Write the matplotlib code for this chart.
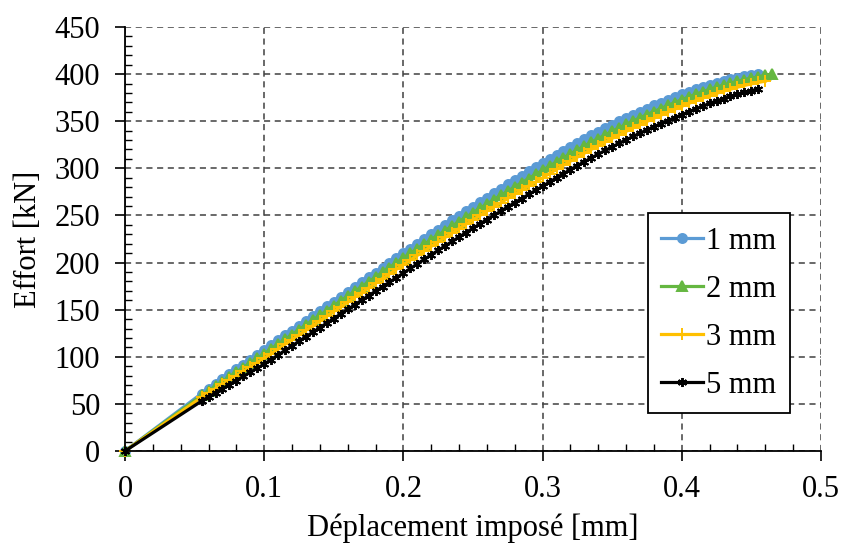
import numpy as np
import matplotlib
matplotlib.use("Agg")
import matplotlib.pyplot as plt
from matplotlib.ticker import MultipleLocator, FuncFormatter

plt.rcParams['font.family'] = ['Liberation Serif', 'DejaVu Serif']

labels = ["1 mm", "2 mm", "3 mm", "5 mm"]
colors = ["#5B9BD5", "#65B741", "#FFC000", "#000000"]

x_start = 0.055
step = 0.005

y_1mm = [61.0, 66.1, 71.3, 76.4, 81.6, 86.7, 91.8, 97.0, 102.1, 107.3,
         112.4, 117.5, 122.7, 127.8, 133.0, 138.1, 143.2, 148.4, 153.5, 158.6,
         163.8, 168.9, 174.0, 179.2, 184.3, 189.4, 194.5, 199.6, 204.7, 209.8,
         214.9, 220.0, 225.0, 230.0, 235.0, 239.9, 244.8, 249.7, 254.6, 259.4,
         264.2, 269.0, 273.7, 278.4, 283.1, 287.7, 292.3, 296.9, 301.4, 305.9,
         310.3, 314.6, 318.8, 323.0, 327.1, 331.1, 335.0, 338.8, 342.6, 346.3,
         349.9, 353.4, 356.9, 360.2, 363.5, 366.7, 369.8, 372.9, 375.9, 378.8,
         381.5, 384.0, 386.4, 388.7, 390.8, 392.7, 394.5, 396.2, 397.7, 399.0,
         400.2]
y_2mm = [59.0, 63.9, 68.9, 73.7, 78.7, 83.6, 88.5, 93.4, 98.3, 103.3,
         108.4, 113.4, 118.5, 123.6, 128.7, 133.8, 138.8, 144.0, 149.0, 154.1,
         159.2, 164.3, 169.3, 174.5, 179.5, 184.6, 189.6, 194.7, 199.7, 204.8,
         209.7, 214.7, 219.5, 224.4, 229.2, 234.0, 238.7, 243.5, 248.2, 252.9,
         257.5, 262.2, 266.7, 271.3, 275.8, 280.3, 284.7, 289.2, 293.5, 297.9,
         302.4, 306.8, 311.1, 315.4, 319.6, 323.7, 327.7, 331.6, 335.5, 339.3,
         343.0, 346.6, 350.2, 353.6, 357.0, 360.3, 363.5, 366.7, 369.8, 372.8,
         375.8, 378.5, 381.2, 383.8, 386.2, 388.3, 390.4, 392.4, 394.2, 395.7,
         397.2, 398.6, 400.0]
y_3mm = [57.0, 61.5, 66.2, 70.7, 75.4, 79.9, 84.5, 89.1, 93.7, 98.3,
         103.3, 108.2, 113.3, 118.2, 123.3, 128.2, 133.2, 138.2, 143.2, 148.1,
         153.2, 158.1, 163.1, 168.1, 173.1, 178.0, 183.0, 187.9, 192.9, 197.8,
         202.7, 207.6, 212.4, 217.2, 222.0, 226.7, 231.4, 236.1, 240.8, 245.4,
         250.0, 254.6, 259.1, 263.6, 268.1, 272.5, 276.9, 281.3, 285.6, 289.9,
         294.5, 298.9, 303.3, 307.6, 311.9, 316.0, 320.1, 324.0, 328.0, 331.8,
         335.6, 339.2, 342.9, 346.3, 349.8, 353.1, 356.4, 359.6, 362.8, 365.8,
         368.9, 371.7, 374.5, 377.2, 379.6, 381.9, 384.0, 386.1, 388.0, 389.6,
         391.2, 392.5]
y_5mm = [53.0, 57.3, 61.7, 66.1, 70.5, 74.8, 79.1, 83.6, 87.9, 92.3,
         97.1, 101.9, 106.8, 111.6, 116.5, 121.3, 126.1, 131.0, 135.8, 140.6,
         145.5, 150.3, 155.1, 160.0, 164.8, 169.6, 174.4, 179.2, 184.0, 188.8,
         193.7, 198.6, 203.4, 208.2, 213.0, 217.7, 222.4, 227.1, 231.8, 236.4,
         241.0, 245.6, 250.1, 254.6, 259.1, 263.5, 267.9, 272.3, 276.6, 280.9,
         285.5, 289.9, 294.3, 298.6, 302.9, 307.0, 311.1, 315.0, 319.0, 322.8,
         326.6, 330.2, 333.9, 337.3, 340.8, 344.1, 347.4, 350.6, 353.8, 356.8,
         360.0, 363.1, 366.0, 368.9, 371.5, 374.0, 376.3, 378.6, 380.6, 382.5,
         384.2]

series = [y_1mm, y_2mm, y_3mm, y_5mm]
markers = ["o", "^", "+", (6, 2, 0)]
msizes = [6.5, 7, 8, 6.5]

fig = plt.figure(figsize=(8.42, 5.49), dpi=100)
ax = fig.add_axes([0.1485, 0.1785, 0.8265, 0.7723])

for ys, lab, c, m, ms in zip(series, labels, colors, markers, msizes):
    xs = [0.0] + [round(x_start + step * i, 4) for i in range(len(ys))]
    yv = [0] + ys
    ax.plot(xs, yv, color=c, lw=2.3, marker=m, markersize=ms, markeredgewidth=1.4,
            markeredgecolor=c, markerfacecolor=c, label=lab, clip_on=False)

ax.set_xlim(0, 0.5)
ax.set_ylim(0, 450)
ax.xaxis.set_major_locator(MultipleLocator(0.1))
ax.xaxis.set_minor_locator(MultipleLocator(0.02))
ax.yaxis.set_major_locator(MultipleLocator(50))
ax.yaxis.set_minor_locator(MultipleLocator(10))
ax.xaxis.set_major_formatter(FuncFormatter(lambda v, p: "0" if abs(v) < 1e-9 else f"{v:g}"))

ax.tick_params(which='major', direction='out', length=7, width=1.2, labelsize=22, colors='black')
ax.tick_params(which='minor', direction='in', length=5, width=1.0)
ax.tick_params(axis='x', which='major', pad=10)
ax.tick_params(axis='y', which='major', pad=11)

ax.grid(True, which='major', linestyle=(0, (4, 3)), color='#404040', linewidth=1.1)
ax.set_axisbelow(True)
for s in ['top', 'right']:
    ax.spines[s].set_visible(False)
for s in ['left', 'bottom']:
    ax.spines[s].set_linewidth(1.3)
    ax.spines[s].set_color('black')

ax.set_xlabel("Déplacement imposé [mm]", fontsize=22, labelpad=7)
ax.set_ylabel("Effort [kN]", fontsize=22, labelpad=8)

leg = ax.legend(loc='upper left', bbox_to_anchor=(0.751, 0.561), fontsize=22,
                frameon=True, fancybox=False, edgecolor='black', framealpha=1,
                handlelength=1.35, handletextpad=0.1, labelspacing=0.62, borderpad=0.45,
                borderaxespad=0, markerscale=1.0)
leg.get_frame().set_linewidth(1.3)

fig.savefig("out.png", dpi=100)
